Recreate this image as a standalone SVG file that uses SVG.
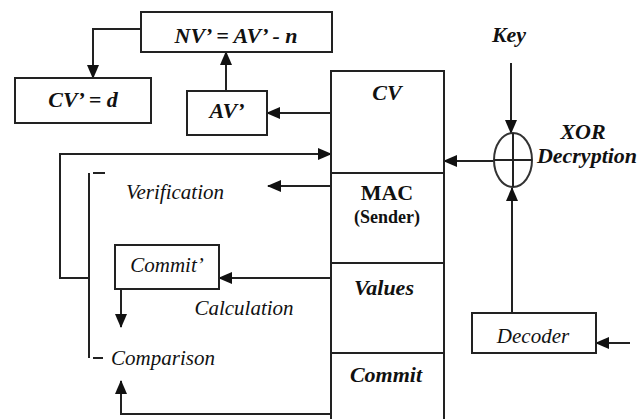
<svg xmlns="http://www.w3.org/2000/svg" width="637" height="419" viewBox="0 0 637 419" font-family="Liberation Serif, serif">
<defs>
<marker id="ah" markerUnits="userSpaceOnUse" markerWidth="14" markerHeight="12" refX="13" refY="6" orient="auto">
<path d="M0 0 L14 6 L0 12 Z" fill="#111"/>
</marker>
</defs>
<style>
.box{fill:#fff;stroke:#222;stroke-width:2}
.ln{fill:none;stroke:#222;stroke-width:2}
.ar{fill:none;stroke:#222;stroke-width:2;marker-end:url(#ah)}
.bi{font-weight:bold;font-style:italic;font-size:22px;fill:#111;text-anchor:middle}
.b{font-weight:bold;fill:#111;text-anchor:middle}
.it{font-style:italic;font-size:21px;fill:#111;text-anchor:middle}
</style>
<rect width="637" height="419" fill="#fff"/>
<g id="connectors">
<path class="ar" d="M141 29 H93 V78"/>
<path class="ar" d="M226 91 V52"/>
<path class="ar" d="M331 113 H267"/>
<path class="ar" d="M89 278 H60 V154 H331"/>
<path class="ln" d="M89 173 V358 M93 173 H105 M93 358 H103"/>
<path class="ar" d="M331 186 H268"/>
<path class="ar" d="M331 278 H219"/>
<path class="ar" d="M121 289 V327"/>
<path class="ar" d="M331 414 H121 V381"/>
<path class="ar" d="M511 63 V133"/>
<path class="ar" d="M495 161 H444"/>
<path class="ar" d="M512 313 V188"/>
<path class="ar" d="M630 343 H596"/>
</g>
<g id="nv">
<rect class="box" x="141" y="12" width="191" height="40"/>
<text class="bi" x="236" y="43" font-family="Liberation Serif">NV’ = AV’ - n</text>
</g>
<g id="cvd">
<rect class="box" x="15" y="78" width="136" height="45"/>
<text class="bi" x="83" y="107" font-family="Liberation Serif">CV’ = d</text>
</g>
<g id="av">
<rect class="box" x="187" y="91" width="80" height="44"/>
<text class="bi" x="227" y="118" font-family="Liberation Serif">AV’</text>
</g>
<g id="block">
<rect class="box" x="331" y="71" width="113" height="360"/>
<path class="ln" d="M331 173 H444 M331 263 H444 M331 353 H444"/>
<text class="bi" x="387" y="100" font-family="Liberation Serif">CV</text>
<text class="b" x="387" y="200" font-size="22" font-family="Liberation Serif">MAC</text>
<text class="b" x="387" y="223" font-size="18" font-family="Liberation Serif">(Sender)</text>
<text class="bi" x="384" y="295" font-family="Liberation Serif">Values</text>
<text class="bi" x="386" y="382" font-family="Liberation Serif">Commit</text>
</g>
<g id="xor">
<ellipse cx="513" cy="160" rx="19" ry="27" fill="#fff" stroke="#333" stroke-width="2"/>
<path class="ln" d="M494 160 H532 M513 133 V187"/>
<text class="bi" x="583" y="139" font-size="20" font-family="Liberation Serif">XOR</text>
<text class="bi" x="587" y="163" font-size="19" font-family="Liberation Serif">Decryption</text>
</g>
<g id="key">
<text class="bi" x="509" y="42" font-family="Liberation Serif">Key</text>
</g>
<g id="decoder">
<rect class="box" x="472" y="313" width="124" height="40"/>
<text class="it" x="533" y="343" font-family="Liberation Serif">Decoder</text>
</g>
<g id="commitp">
<rect class="box" x="115" y="245" width="104" height="44"/>
<text class="it" x="167" y="272" font-size="17" font-family="Liberation Serif">Commit’</text>
</g>
<g id="labels">
<text class="it" x="175" y="199" font-family="Liberation Serif">Verification</text>
<text class="it" x="244" y="315" font-family="Liberation Serif">Calculation</text>
<text class="it" x="163" y="365" font-family="Liberation Serif">Comparison</text>
</g>
</svg>
